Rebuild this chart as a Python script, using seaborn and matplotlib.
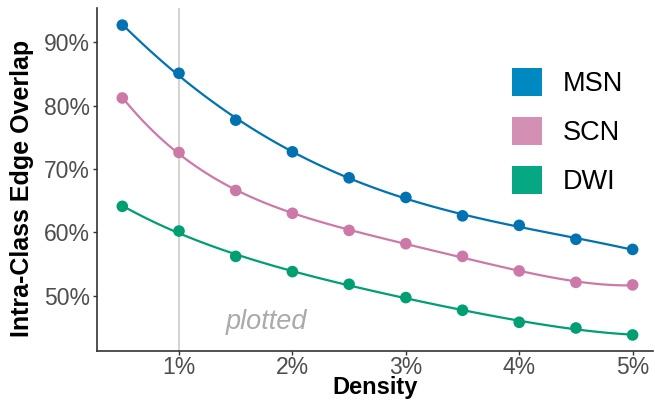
import matplotlib
matplotlib.use("Agg")
import matplotlib.pyplot as plt
from matplotlib.patches import Patch
import seaborn as sns
import pandas as pd

density = [0.5, 1.0, 1.5, 2.0, 2.5, 3.0, 3.5, 4.0, 4.5, 5.0]
msn = [92.7, 85.1, 77.7, 72.7, 68.6, 65.5, 62.6, 61.1, 58.9, 57.3]
scn = [81.2, 72.6, 66.6, 63.0, 60.3, 58.2, 56.2, 53.9, 52.1, 51.7]
dwi = [64.1, 60.2, 56.2, 53.8, 51.8, 49.7, 47.7, 45.8, 44.9, 43.8]
modalities = ["MSN", "SCN", "DWI"]
colors = {"MSN": "#0072B2", "SCN": "#CC79A7", "DWI": "#009E73"}
legend_colors = {"MSN": "#0088C0", "SCN": "#D48FB4", "DWI": "#06A884"}
x_ticks = [1, 2, 3, 4, 5]
y_ticks = [50, 60, 70, 80, 90]

df = pd.DataFrame({
    "Density": density * 3,
    "Overlap": msn + scn + dwi,
    "Modality": [m for m in modalities for _ in density],
})

sns.set_theme(style="white")
plt.rcParams["font.family"] = ["Liberation Sans", "DejaVu Sans"]

fig = plt.figure(figsize=(6.55, 4.0), dpi=100)
ax = fig.add_axes([0.1476, 0.123, 0.8494, 0.857])

ax.axvline(1, color="#cccccc", lw=1.2, zorder=0)

for m in modalities:
    sub = df[df["Modality"] == m]
    sns.regplot(data=sub, x="Density", y="Overlap", order=4, ci=None,
                scatter=False, color=colors[m], line_kws={"lw": 1.6}, ax=ax,
                truncate=True)
sns.scatterplot(data=df, x="Density", y="Overlap", hue="Modality",
                palette=colors, s=70, edgecolor="none", legend=False, ax=ax,
                zorder=3)

ax.text(1.77, 45.8, "plotted", fontsize=19.5, style="italic", color="#aaaaaa",
        ha="center", va="center")

ax.set_xlim(0.274, 5.18)
ax.set_ylim(41.3, 95.4)
ax.set_xticks(x_ticks)
ax.set_xticklabels([f"{t}%" for t in x_ticks])
ax.set_yticks(y_ticks)
ax.set_yticklabels([f"{t}%" for t in y_ticks])
ax.tick_params(axis="both", labelsize=16.5, labelcolor="#4d4d4d", length=3,
               width=1, color="#333333", left=True, bottom=True, pad=2)
ax.tick_params(axis="x", pad=0.5)

for side in ["top", "right"]:
    ax.spines[side].set_visible(False)
for side in ["left", "bottom"]:
    ax.spines[side].set_color("#333333")
    ax.spines[side].set_linewidth(1.2)

ax.set_xlabel("Density", fontsize=17, fontweight="bold", color="black")
ax.xaxis.set_label_coords(0.5, -0.074)
ax.set_ylabel("Intra-Class Edge Overlap", fontsize=18, fontweight="bold",
              color="black")
ax.yaxis.set_label_coords(-0.113, 0.475)

handles = [Patch(facecolor=legend_colors[m], edgecolor="none", label=m)
           for m in modalities]
ax.legend(handles=handles, loc="upper left", bbox_to_anchor=(0.747, 0.826),
          frameon=False, fontsize=19.5, labelcolor="black", handlelength=1.1,
          handleheight=1.25, handletextpad=0.75, labelspacing=0.72,
          borderpad=0, borderaxespad=0)

fig.savefig("out.png", dpi=100)
